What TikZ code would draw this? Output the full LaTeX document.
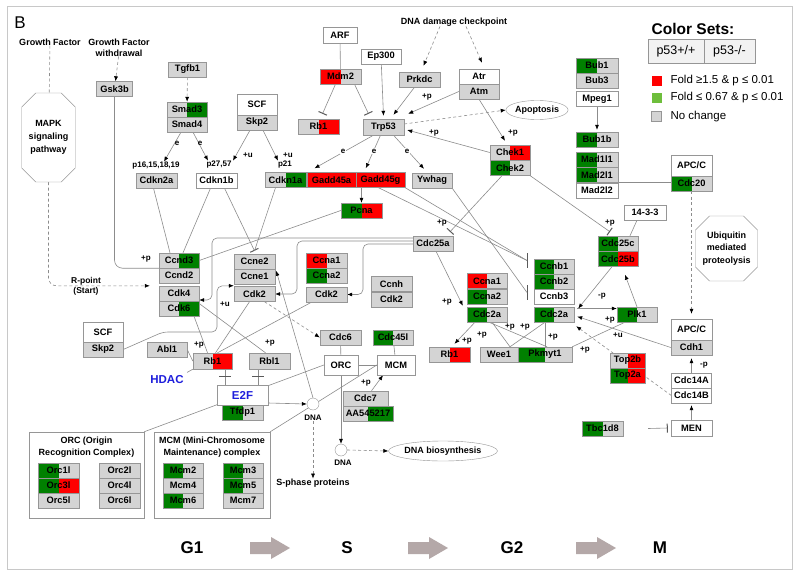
\documentclass[tikz,border=0pt]{standalone}
\usepackage{fontspec}
\setmainfont{Liberation Sans}
\usetikzlibrary{arrows.meta,shapes.geometric,shapes.misc}
\pgfdeclarelayer{bg}
\pgfsetlayers{bg,main}
\definecolor{kred}{RGB}{255,0,0}
\definecolor{kgreen}{RGB}{0,128,0}
\definecolor{kgray}{RGB}{212,212,212}
\definecolor{kborder}{RGB}{150,150,150}
\definecolor{kline}{RGB}{140,140,140}
\definecolor{kblue}{RGB}{30,30,220}
\definecolor{karrow}{RGB}{180,168,168}
\definecolor{lgreen}{RGB}{110,190,60}
\definecolor{framec}{RGB}{200,200,200}
\newcommand\gfont{\bfseries\fontsize{9.3}{10}\selectfont}
\newcommand\lfont{\bfseries\fontsize{8}{9}\selectfont}
\newcommand\tfont{\bfseries\fontsize{9}{10}\selectfont}
\tikzset{
  gene/.style n args={3}{draw=kborder, line width=0.4pt, minimum width=#1, minimum height=15pt,
    inner sep=0pt, font=\gfont,
    path picture={\fill[#2] (path picture bounding box.south west) rectangle (path picture bounding box.north);
                  \fill[#3] (path picture bounding box.south) rectangle (path picture bounding box.north east);}},
  lbl/.style={font=\lfont, inner sep=0.5pt},
  elab/.style={font=\lfont, fill=white, inner sep=0.8pt},
  ttl/.style={font=\tfont, inner sep=0pt, align=center},
  conn/.style={draw=kline, line width=0.6pt},
  arr/.style={conn, -{Latex[length=5pt,width=4pt,color=black]}},
  inh/.style={conn, -{Bar[width=9pt,line width=1pt,color=black!65]}},
  dsh/.style={conn, dash pattern=on 3pt off 2.5pt},
  darr/.style={dsh, -{Latex[length=5pt,width=4pt,color=black]}},
  chbox/.style={chamfered rectangle, chamfered rectangle xsep=7pt, chamfered rectangle ysep=7pt,
    draw=kborder, fill=white, inner sep=0pt, font=\tfont, align=center},
  cpx/.style={draw=kborder, fill=white, line width=0.5pt, inner sep=0pt},
}
\newcommand\gn[7]{\node[gene={#4pt}{#5}{#6}] (#1) at (#2,#3) {#7};}
\begin{document}
\begin{tikzpicture}[x=1pt,y=-1pt]
\useasboundingbox (0,0) rectangle (800,575);
% ---------- titles
\node[font=\fontsize{17}{17}\selectfont] (blab) at (20,23) {B};
\node[ttl] (gfa) at (50,42) {Growth Factor};
\node[ttl] (gfb) at (119,42) {Growth Factor};
\node[ttl] (gfw) at (119,53) {withdrawal};
\node[ttl] (ddc) at (454,22) {DNA damage checkpoint};
\node[chbox, minimum width=45pt, minimum height=89pt, font=\bfseries\fontsize{9}{13}\selectfont] (mapk) at (48.5,137.5) {MAPK\\signaling\\pathway};
\node[chbox, minimum width=59pt, minimum height=65pt, font=\bfseries\fontsize{9}{12.5}\selectfont] (ubq) at (726.5,248.5) {Ubiquitin\\mediated\\proteolysis};
% ---------- top left
\gn{gskb}{114.5}{89}{36}{kgray}{kgray}{Gsk3b}
\gn{tgfb}{187.5}{69.5}{38}{kgray}{kgray}{Tgfb1}
\gn{smadc}{187}{109.5}{40}{kgray}{kgreen}{Smad3}
\gn{smadd}{187}{124.5}{40}{kgray}{kgray}{Smad4}
\gn{cdknta}{156.5}{180.5}{41}{kgray}{kgray}{Cdkn2a}
\gn{cdknob}{216.5}{180.5}{41}{white}{white}{Cdkn1b}
\node[gene={40pt}{white}{white}, minimum height=21pt] (scfa) at (257,104.5) {SCF};
\gn{skpa}{257}{122.5}{40}{kgray}{kgray}{Skp2}
\gn{cdknoa}{285.5}{180}{41}{kgray}{kgreen}{Cdkn1a}
\gn{gadda}{331.5}{180}{49}{kred}{kred}{Gadd45a}
\gn{gaddg}{380.5}{180}{49}{kred}{kred}{Gadd45g}
\node[gene={34pt}{white}{white}, minimum height=16pt] (arf) at (340,35) {ARF};
\gn{mdm}{340.5}{76.5}{41}{kred}{kgray}{Mdm2}
\gn{ep}{381}{56.5}{40}{white}{white}{Ep300}
\gn{rbt}{318.5}{126.5}{41}{kgray}{kred}{Rb1}
\node[gene={41pt}{kgray}{kgray}, minimum height=16pt] (trp) at (383.5,127) {Trp53};
\gn{prkdc}{419.5}{79.5}{41}{kgray}{kgray}{Prkdc}
\gn{atr}{479}{76.5}{40}{white}{white}{Atr}
\gn{atm}{479}{91.5}{40}{kgray}{kgray}{Atm}
\gn{ywhag}{432}{180.5}{40}{kgray}{kgray}{Ywhag}
\gn{chka}{510}{152.5}{40}{kgray}{kred}{Chek1}
\gn{chkb}{510}{168}{40}{kgreen}{kgray}{Chek2}
\node[ellipse, draw=kborder, fill=white, minimum width=62pt, minimum height=19pt, inner sep=0pt, font=\tfont] (apop) at (537,110) {Apoptosis};
\gn{bubo}{597}{65.5}{42}{kgreen}{kgray}{Bub1}
\gn{bubt}{597}{80.5}{42}{kgray}{kgray}{Bub3}
\gn{mpeg}{597}{99}{42}{white}{white}{Mpeg1}
\gn{bubob}{597}{139.5}{42}{kgreen}{kgray}{Bub1b}
\gn{madoo}{597}{159.5}{42}{kgreen}{kgray}{Mad1l1}
\gn{madto}{597}{175}{42}{kgreen}{kgray}{Mad2l1}
\gn{madtt}{597}{190.5}{42}{white}{white}{Mad2l2}
\node[gene={41pt}{white}{white}, minimum height=21pt] (apca) at (691.5,165.5) {APC/C};
\gn{cdctw}{691.5}{183.5}{41}{kgreen}{kgray}{Cdc20}
% ---------- middle
\gn{pcna}{361.5}{210.5}{41}{kgreen}{kred}{Pcna}
\gn{ccndc}{179}{260.5}{40}{kgray}{kgreen}{Ccnd3}
\gn{ccndb}{179}{275.5}{40}{kgray}{kgray}{Ccnd2}
\gn{cdkd}{179}{293.5}{40}{kgray}{kgray}{Cdk4}
\gn{cdkf}{179}{308.5}{40}{kgray}{kgreen}{Cdk6}
\gn{ccneb}{254.5}{261.5}{41}{kgray}{kgray}{Ccne2}
\gn{ccnea}{254.5}{276.5}{41}{kgray}{kgray}{Ccne1}
\gn{cdkba}{254.5}{294}{41}{kgray}{kgray}{Cdk2}
\gn{ccnaa}{326.5}{260.5}{41}{kred}{kgray}{Ccna1}
\gn{ccnab}{326.5}{275.5}{41}{kgreen}{kgray}{Ccna2}
\gn{cdkbb}{326.5}{294.5}{41}{kgray}{kgray}{Cdk2}
\gn{ccnh}{391.5}{284}{41}{kgray}{kgray}{Ccnh}
\gn{cdkbc}{391.5}{299.5}{41}{kgray}{kgray}{Cdk2}
\gn{cdctfa}{433}{243.5}{40}{kgray}{kgray}{Cdc25a}
\gn{ccnac}{487}{281}{40}{kred}{kgray}{Ccna1}
\gn{ccnad}{487}{296.5}{40}{kgreen}{kgray}{Ccna2}
\gn{cdcaa}{487}{314.5}{40}{kgreen}{kgray}{Cdc2a}
\gn{ccnba}{554}{266.5}{40}{kgreen}{kgray}{Ccnb1}
\gn{ccnbb}{554}{281.5}{40}{kgreen}{kgray}{Ccnb2}
\gn{ccnbc}{554}{296.5}{40}{white}{white}{Ccnb3}
\gn{cdcab}{554}{314.5}{40}{kgreen}{kgray}{Cdc2a}
\gn{cdctfc}{618}{243.5}{40}{kgreen}{kgray}{Cdc25c}
\gn{cdctfb}{618}{259}{40}{kgreen}{kred}{Cdc25b}
\gn{ftt}{645}{212.5}{42}{white}{white}{14-3-3}
\gn{plk}{637}{314.5}{40}{kgreen}{kgray}{Plk1}
\node[gene={41pt}{white}{white}, minimum height=21pt] (apcb) at (691.5,329.5) {APC/C};
\gn{cdh}{691.5}{347.5}{41}{kgray}{kgray}{Cdh1}
\gn{cdcfa}{691.5}{380.5}{40}{white}{white}{Cdc14A}
\gn{cdcfb}{691.5}{395.5}{40}{white}{white}{Cdc14B}
\node[gene={41pt}{white}{white}, minimum height=16pt] (men) at (691.5,428) {MEN};
\gn{tbc}{602.5}{428.5}{41}{kgreen}{kgray}{Tbc1d8}
\gn{topb}{627.5}{360.5}{35}{kgray}{kred}{Top2b}
\gn{topa}{627.5}{375.5}{35}{kgreen}{kred}{Top2a}
\gn{rbr}{449.5}{354.5}{41}{kgray}{kred}{Rb1}
\gn{wee}{499}{354.5}{38}{kgray}{kgray}{Wee1}
\gn{pkm}{545}{354.5}{54}{kgreen}{kgray}{Pkmyt1}
% ---------- lower left
\node[gene={40pt}{white}{white}, minimum height=20pt] (scfb) at (103,332) {SCF};
\gn{skpb}{103}{349.5}{40}{kgray}{kgray}{Skp2}
\gn{abl}{167}{349.5}{40}{kgray}{kgray}{Abl1}
\node[gene={39pt}{kgray}{kred}, minimum height=16pt] (rbl) at (212.5,361) {Rb1};
\node[gene={41pt}{kgray}{kgray}, minimum height=16pt] (rblo) at (269.5,361) {Rbl1};
\node[font=\bfseries\fontsize{11.5}{12}\selectfont, text=kblue] (hdac) at (167,380) {HDAC};
\gn{cdcs}{340.5}{337.5}{41}{kgray}{kgray}{Cdc6}
\gn{cdcff}{393}{337.5}{40}{kgreen}{kgray}{Cdc45l}
\node[gene={34pt}{white}{white}, minimum height=20pt] (orc) at (341,365) {ORC};
\node[gene={38pt}{white}{white}, minimum height=20pt] (mcm) at (396,365) {MCM};
\node[gene={51pt}{white}{white}, minimum height=20pt, text=kblue, font=\bfseries\fontsize{11.5}{12}\selectfont] (etf) at (242.5,395) {E2F};
\gn{tfdp}{242.5}{412.5}{41}{kgreen}{kgray}{Tfdp1}
\gn{cdcsv}{365.5}{398.5}{45}{kgray}{kgray}{Cdc7}
\gn{aaa}{368}{413.5}{50}{kgray}{kgreen}{AA545217}
\node[circle, draw=kborder, fill=white, minimum size=12pt, inner sep=0pt] (dnaa) at (313,404) {};
\node[lbl] (ldnaa) at (313,418) {DNA};
\node[circle, draw=kborder, fill=white, minimum size=12pt, inner sep=0pt] (dnab) at (341,450) {};
\node[lbl] (ldnab) at (343,463) {DNA};
\node[ttl] (sph) at (313,483) {S-phase proteins};
\node[ellipse, draw=kborder, fill=white, minimum width=86pt, minimum height=20pt, inner sep=0pt, font=\tfont] (dnabio) at (443,451) {DNA biosynthesis};
% complexes
\node[cpx, minimum width=115pt, minimum height=86pt] (orcx) at (86.5,475) {};
\node[ttl, align=center, font=\bfseries\fontsize{9}{12}\selectfont] (orct) at (86.5,447) {ORC (Origin\\Recognition Complex)};
\node[cpx, minimum width=116pt, minimum height=86pt] (mcmx) at (212,475) {};
\node[ttl, align=center, font=\bfseries\fontsize{9}{12}\selectfont] (mcmt) at (212,447) {MCM (Mini-Chromosome\\Maintenance) complex};
\gn{orcoa}{58.5}{470.5}{41}{kgreen}{kgray}{Orc1l}
\gn{orcth}{58.5}{485.5}{41}{kgreen}{kred}{Orc3l}
\gn{orcfi}{58.5}{500.5}{41}{kgray}{kgray}{Orc5l}
\gn{orctw}{119.5}{470.5}{41}{kgray}{kgray}{Orc2l}
\gn{orcfo}{119.5}{485.5}{41}{kgray}{kgray}{Orc4l}
\gn{orcsi}{119.5}{500.5}{41}{kgray}{kgray}{Orc6l}
\gn{mcmtw}{183}{470.5}{40}{kgreen}{kgray}{Mcm2}
\gn{mcmfo}{183}{485.5}{40}{kgray}{kgray}{Mcm4}
\gn{mcmsi}{183}{500.5}{40}{kgreen}{kgray}{Mcm6}
\gn{mcmth}{243}{470.5}{40}{kgreen}{kgray}{Mcm3}
\gn{mcmfi}{243}{485.5}{40}{kgreen}{kgray}{Mcm5}
\gn{mcmse}{243}{500.5}{40}{kgray}{kgray}{Mcm7}
% ---------- small labels
\node[lbl] (lpsix) at (156,166) {p16,15,18,19};
\node[lbl] (lpts) at (219,165) {p27,57};
\node[lbl] (lptwo) at (285,165) {p21};
\node[lbl] (lua) at (248,155) {+u};
\node[lbl] (lub) at (288,155) {+u};
\node[lbl] (lea) at (177,143) {e};
\node[lbl] (leb) at (200,143) {e};
\node[lbl] (lpatm) at (427,97) {+p};
\node[lbl] (lpchk) at (434,133) {+p};
\node[lbl] (lpatc) at (513,133) {+p};
\node[ttl, font=\bfseries\fontsize{8.5}{10}\selectfont] (rpt) at (86,286) {R-point\\(Start)};
\node[lbl] (lpgsk) at (146,259) {+p};
\node[lbl] (luskp) at (225,304) {+u};
\node[lbl] (lprba) at (199,345) {+p};
\node[lbl] (lprbb) at (270,343) {+p};
\node[lbl] (lpcdc) at (366,383) {+p};
\node[lbl] (lpcha) at (442,223) {+p};
\node[lbl] (lpchc) at (610,223) {+p};
\node[lbl] (lpcda) at (447,302) {+p};
\node[lbl] (lprbr) at (467,341) {+p};
\node[lbl] (lpwa) at (482,335) {+p};
\node[lbl] (lpwb) at (510,327) {+p};
\node[lbl] (lpwc) at (525,327) {+p};
\node[lbl] (lpwd) at (553,337) {+p};
\node[lbl] (lppk) at (585,350) {+p};
\node[lbl] (lmpc) at (602,296) {-p};
\node[lbl] (lppl) at (610,320) {+p};
\node[lbl] (lucd) at (618,335) {+u};
\node[lbl] (lmpcd) at (704,365) {-p};
% ---------- legend
\node[font=\bfseries\fontsize{15.5}{16}\selectfont] (cs) at (693,29) {Color Sets:};
\node[draw=kborder, fill=black!5, minimum width=56pt, minimum height=24pt, inner sep=0pt, font=\fontsize{12.5}{13}\selectfont] (pwt) at (676,51) {p53+/+};
\node[draw=kborder, fill=black!5, minimum width=51pt, minimum height=24pt, inner sep=0pt, font=\fontsize{12.5}{13}\selectfont] (pko) at (729.5,51) {p53-/-};
\node[fill=kred, minimum size=10pt, inner sep=0pt] (lgr) at (656.5,81) {};
\node[fill=lgreen, minimum size=10pt, inner sep=0pt] (lgg) at (656.5,98) {};
\node[fill=kgray, draw=kborder, minimum size=10pt, inner sep=0pt] (lgy) at (656.5,116) {};
\node[anchor=west, font=\fontsize{11.5}{12}\selectfont] (tgr) at (667,81) {Fold ≥1.5 \& p ≤ 0.01};
\node[anchor=west, font=\fontsize{11.5}{12}\selectfont] (tgg) at (667,98) {Fold ≤ 0.67 \& p ≤ 0.01};
\node[anchor=west, font=\fontsize{11.5}{12}\selectfont] (tgy) at (667,117) {No change};
% ---------- phases
\node[font=\bfseries\fontsize{17}{17}\selectfont] (pgo) at (192,548) {G1};
\node[font=\bfseries\fontsize{17}{17}\selectfont] (ps) at (347,548) {S};
\node[font=\bfseries\fontsize{17}{17}\selectfont] (pgt) at (512,548) {G2};
\node[font=\bfseries\fontsize{17}{17}\selectfont] (pm) at (660,548) {M};
\foreach \x in {250,408,576}{
  \fill[karrow] (\x,542) -- (\x+21,542) -- (\x+21,537) -- (\x+40,548) -- (\x+21,559) -- (\x+21,554) -- (\x,554) -- cycle;}
% e labels on lines
\node[elab] (lec) at (343,151) {e};
\node[elab] (led) at (374,151) {e};
\node[elab] (lee) at (407,151) {e};
% ---------- connectors
\begin{pgfonlayer}{bg}
\fill[white] (0,0) rectangle (800,575);
\draw[draw=framec, line width=1pt] (7,7) rectangle (792,569);
\draw[dsh] (gfa) -- (mapk);
\draw[darr, rounded corners=8pt] (mapk.south) |- ([xshift=-9pt]cdkd.north west);
\draw[darr] (gfw) -- (gskb);
\draw[conn, rounded corners=8pt] (gskb.south) |- (ccndc.south west);
\draw[darr] (tgfb) -- (smadc);
\draw[arr] ([xshift=-6pt]smadd.south) -- ([xshift=8pt]lpsix.north);
\draw[arr] ([xshift=6pt]smadd.south) -- ([xshift=-11pt]lpts.north);
\draw[arr] ([xshift=-7pt]skpa.south) -- ([xshift=14pt]lpts.north);
\draw[arr] ([xshift=6pt]skpa.south) -- ([xshift=-7pt]lptwo.north);
\draw[conn] (arf) -- (mdm);
\draw[inh] ([xshift=-5pt]mdm.south) -- ([xshift=4pt,yshift=5pt]rbt.north);
\draw[inh] ([xshift=14pt]mdm.south) -- ([xshift=-15pt,yshift=5pt]trp.north);
\draw[arr] (ep) -- ([yshift=3pt]trp.north);
\draw[arr] ([xshift=-5pt]prkdc.south) -- ([xshift=10pt,yshift=4pt]trp.north);
\draw[arr] (atm.west) -- ([xshift=4pt,yshift=5pt]trp.north east);
\draw[arr] (chka.west) -- ([xshift=3pt,yshift=-3pt]trp.east);
\draw[darr] ([yshift=3pt]trp.east) -- (apop.west);
\draw[darr] ([xshift=-14pt]ddc.south) -- ([xshift=4pt,yshift=6pt]prkdc.north);
\draw[darr] ([xshift=12pt]ddc.south) -- ([xshift=3pt,yshift=6pt]atr.north);
\draw[arr] (atm.south) -- ([xshift=-5pt,yshift=4pt]chka.north);
\draw[arr] ([xshift=-10pt]trp.south) -- ([xshift=29pt,yshift=4pt]cdknoa.north);
\draw[arr] ([xshift=-3pt]trp.south) -- ([xshift=10pt,yshift=4pt]gaddg.north west);
\draw[arr] ([xshift=10pt]trp.south) -- ([xshift=-8pt,yshift=4pt]ywhag.north);
\draw[arr] (pcna.north |- gadda.south) -- (pcna.north);
\draw[conn] (pcna.west) -- (ccndc.east);
\draw[conn] ([xshift=-3pt]cdknta.south) -- ([xshift=-9pt]ccndc.north);
\draw[conn] ([xshift=-6pt]cdknob.south) -- ([xshift=4pt]ccndc.north);
\draw[inh] ([xshift=8pt]cdknob.south) -- ([yshift=3pt]ccneb.north);
\draw[conn] ([xshift=-10pt]cdknoa.south) -- ([yshift=3pt]ccneb.north);
% Cdc25a routes
\draw[arr, rounded corners=5pt] ([yshift=5.5pt]cdctfa.west) -- (212,238) -- (212,300) -- ([yshift=8.5pt]cdkf.east);
\draw[arr, rounded corners=5pt] ([yshift=2.5pt]cdctfa.west) -- (297,241) -- (297,294) -- (cdkba.east);
\draw[arr, rounded corners=5pt] ([yshift=-0.5pt]cdctfa.west) -- (363,244) -- (363,294.5) -- (cdkbb.east);
\draw[arr, rounded corners=5pt] (skpb.east) -- (163,332) -- (217,332) -- (217,286) -- ([yshift=-1.5pt]ccnea.south west);
\draw[darr] ([xshift=10pt]cdkba.south) -- (cdcs.west);
\draw[conn] ([xshift=15pt]cdkf.south) -- ([xshift=-5pt]rbl.north);
\draw[conn] ([yshift=5pt]cdkf.east) -- ([xshift=-4pt]rblo.north);
\draw[conn] ([xshift=-5pt]cdkba.south) -- ([xshift=3pt]rbl.north);
\draw[conn] ([xshift=-15pt]cdkbb.south) -- ([xshift=5pt]rbl.north);
\draw[conn] (abl.east) -- (rbl.west);
\draw[conn] (hdac.north east) -- (rbl.south west);
\draw[conn] ([xshift=12.5pt]rbl.south) -- ([xshift=-17.5pt]etf.north);
\draw[conn] ([xshift=-11.5pt]rblo.south) -- ([xshift=15.5pt]etf.north);
\draw[draw=black!65, line width=1pt] (219,376) -- (231,376) (252,376) -- (264,376);
\draw[arr] ([yshift=-8pt]etf.east) -- (dnaa.west);
\draw[arr] (dnaa.north) -- ([xshift=1pt,yshift=-2pt]ccnea.north east);
\draw[darr] (ldnaa.south) -- (sph.north);
\draw[conn] (cdcs) -- (orc);
\draw[conn] (orc) -- (mcm);
\draw[conn] (cdcff) -- (mcm);
\draw[arr] ([xshift=6pt]cdcsv.north) -- ([xshift=-13pt]mcm.south);
\draw[arr] (orc.south) -- (dnab.north);
\draw[darr] (dnab.east) -- (dnabio.west);
\draw[conn] (orcx.north east) -- (orc.west);
\draw[conn] (mcmx.north east) -- (mcm.west);
% G2 / M
\draw[inh] ([xshift=-8pt]chkb.south) -- ([xshift=17pt,yshift=4pt]cdctfa.north);
\draw[inh] (chkb.south east) -- ([xshift=-8pt,yshift=4pt]cdctfc.north);
\draw[conn] ([xshift=-8pt]ftt.south) -- ([xshift=12pt]cdctfc.north);
\draw[arr] ([xshift=3pt]cdctfa.south) -- ([xshift=-4pt,yshift=1pt]cdcaa.north west);
\draw[arr] ([xshift=-12pt]cdcaa.south) -- ([xshift=5pt,yshift=3pt]rbr.north);
\draw[conn] ([xshift=5pt]cdcaa.south) -- ([xshift=11pt]wee.north);
\draw[conn] ([xshift=2pt]cdcaa.south) -- ([xshift=2pt]pkm.north);
\draw[conn] ([xshift=-9pt]cdcab.south) -- ([xshift=11pt]wee.north);
\draw[conn] ([xshift=-9pt]cdcab.south) -- (pkm.north);
\coordinate (bara) at (527,260.5);
\coordinate (barb) at (527,292.5);
\draw[draw=black!65, line width=1pt] (527,253) -- (527,268) (527,285) -- (527,300);
\draw[conn] (gaddg.south east) -- (bara);
\draw[conn] ([xshift=-2pt]gaddg.south) -- (bara);
\draw[conn] (ywhag.south east) -- (barb);
\draw[arr] ([xshift=-6pt]cdctfb.south) -- ([xshift=4pt,yshift=6pt]cdcab.east);
\draw[arr] ([xshift=3pt,yshift=6pt]cdcab.east) -- ([yshift=6pt]plk.west);
\draw[arr] (plk.north) -- ([xshift=7pt,yshift=-8pt]cdctfb.south);
\draw[conn] ([xshift=-12pt]plk.south) -- (pkm.north east);
\draw[arr] (cdh.west) -- ([xshift=3pt,yshift=-2pt]cdcab.east);
\draw[darr] (cdcfb.west) -- ([xshift=2pt,yshift=-4pt]cdcab.south east);
\draw[conn] ([yshift=-7pt]madto.east) -- ([yshift=1.5pt]cdctw.west);
\draw[darr] (cdctw.south) -- ([yshift=5pt]apcb.north);
\draw[arr, shorten >=3pt] (cdcfa.north) -- (cdh.south);
\draw[arr, shorten >=2pt] (men.north) -- (cdcfb.south);
\draw[inh] ([xshift=25pt]tbc.east) -- ([xshift=-3pt]men.west);
\draw[arr, shorten >=2pt] (mpeg) -- (bubob);
\end{pgfonlayer}
\end{tikzpicture}
\end{document}
